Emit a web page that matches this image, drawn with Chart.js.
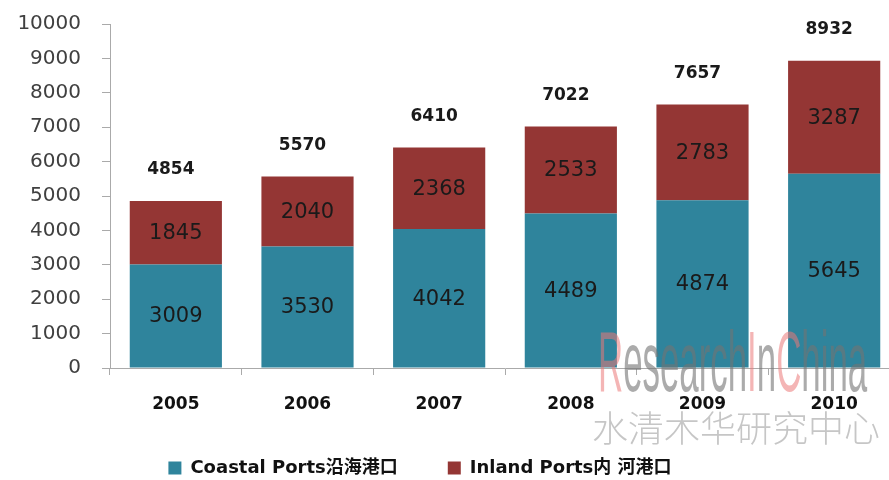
<!DOCTYPE html>
<html>
<head>
<meta charset="utf-8">
<script src="https://cdn.jsdelivr.net/npm/chart.js@4.4.0/dist/chart.umd.min.js"></script>
<style>
  html, body { margin: 0; padding: 0; background: #fff; overflow: hidden; }
  #wrap { position: relative; width: 905px; height: 480px; }
  .wm { position: absolute; white-space: nowrap; pointer-events: none; }
  #wm1 { left: 598px; top: 312px; font-family: 'Liberation Sans', Arial, sans-serif; font-size: 86px;
         transform: scaleX(0.405); transform-origin: left top; color: rgba(115,115,115,0.6); }
  #wm1 span { color: rgba(235,120,120,0.55); }
  #wm2 { left: 592px; top: 400px; font-family: 'Noto Sans CJK SC', sans-serif; font-size: 36px;
         font-weight: 300; color: rgba(160,160,160,0.6); }
</style>
</head>
<body>
<div id="wrap">
  <canvas id="chart" width="905" height="480"></canvas>
  <div class="wm" id="wm1"><span>R</span>esearch<span>I</span>n<span>C</span>hina</div>
  <div class="wm" id="wm2">水清木华研究中心</div>
</div>
<script>
// datos del grafico
const years = ['2005', '2006', '2007', '2008', '2009', '2010'];
const coastal = [3009, 3530, 4042, 4489, 4874, 5645];
const inland = [1845, 2040, 2368, 2533, 2783, 3287];
const totals = [4854, 5570, 6410, 7022, 7657, 8932];
const yTicks = [0, 1000, 2000, 3000, 4000, 5000, 6000, 7000, 8000, 9000, 10000];

// etiquetas dentro de las barras y totales arriba
const labelPlugin = {
    id: 'labels',
    afterDatasetsDraw(chart) {
        const ctx = chart.ctx;
        ctx.save();
        ctx.textAlign = 'center';
        ctx.textBaseline = 'middle';
        ctx.fillStyle = '#1a1a1a';
        ctx.font = '21px "DejaVu Sans", sans-serif';
        chart.data.datasets.forEach((ds, i) => {
            const meta = chart.getDatasetMeta(i);
            meta.data.forEach((bar, j) => {
                ctx.fillText(String(ds.data[j]), bar.x, (bar.y + bar.base) / 2 + 1);
            });
        });
        const top = chart.getDatasetMeta(1);
        ctx.font = 'bold 17px "DejaVu Sans", sans-serif';
        top.data.forEach((bar, j) => {
            ctx.fillText(String(totals[j]), bar.x - 5, bar.y - 31);
        });
        ctx.restore();
    }
};

// coloca la leyenda donde esta en la imagen
const legendMove = {
    id: 'legendMove',
    afterLayout(chart) {
        const lg = chart.legend;
        const h = lg.bottom - lg.top;
        lg.left -= 30;
        lg.right -= 30;
        lg.top = 469 - 50 - 10;
        lg.bottom = lg.top + h;
    }
};

const ctx = document.getElementById('chart').getContext('2d');
const myChart = new Chart(ctx, {
    type: 'bar',
    data: {
        labels: years,
        datasets: [
            { label: 'Coastal Ports沿海港口', data: coastal, backgroundColor: '#2F849C',
              categoryPercentage: 1, barPercentage: 0.7 },
            { label: 'Inland Ports内 河港口', data: inland, backgroundColor: '#943634',
              categoryPercentage: 1, barPercentage: 0.7 }
        ]
    },
    options: {
        responsive: false,
        animation: false,
        layout: { padding: { top: 24, right: 5, left: 0, bottom: -20 } },
        plugins: {
            tooltip: { enabled: false },
            legend: {
                position: 'bottom',
                labels: {
                    boxWidth: 13, boxHeight: 13, padding: 50, color: '#111',
                    font: { family: '"DejaVu Sans", "Noto Sans CJK SC", sans-serif', size: 18, weight: 'bold' }
                }
            }
        },
        scales: {
            x: {
                stacked: true,
                grid: { drawOnChartArea: false, drawTicks: true, tickLength: 7, color: '#aaa', offset: true },
                border: { color: '#aaa' },
                ticks: { color: '#111', padding: 19, font: { family: '"DejaVu Sans", sans-serif', size: 17, weight: 'bold' } },
                afterFit(scale) { scale.height = 54; }
            },
            y: {
                stacked: true,
                min: 0, max: 10000,
                afterBuildTicks(scale) { scale.ticks = yTicks.map(v => ({ value: v })); },
                grid: { drawOnChartArea: false, drawTicks: true, tickLength: 8, color: '#aaa' },
                border: { color: '#aaa' },
                ticks: {
                    color: '#404040', padding: 21,
                    font: { family: '"DejaVu Sans", sans-serif', size: 20 },
                    callback: v => String(v)
                },
                afterFit(scale) {
                    scale.width = 110;
                    scale.paddingTop = 0;
                    scale.paddingBottom = 0;
                }
            }
        }
    },
    plugins: [labelPlugin, legendMove]
});
</script>
</body>
</html>
